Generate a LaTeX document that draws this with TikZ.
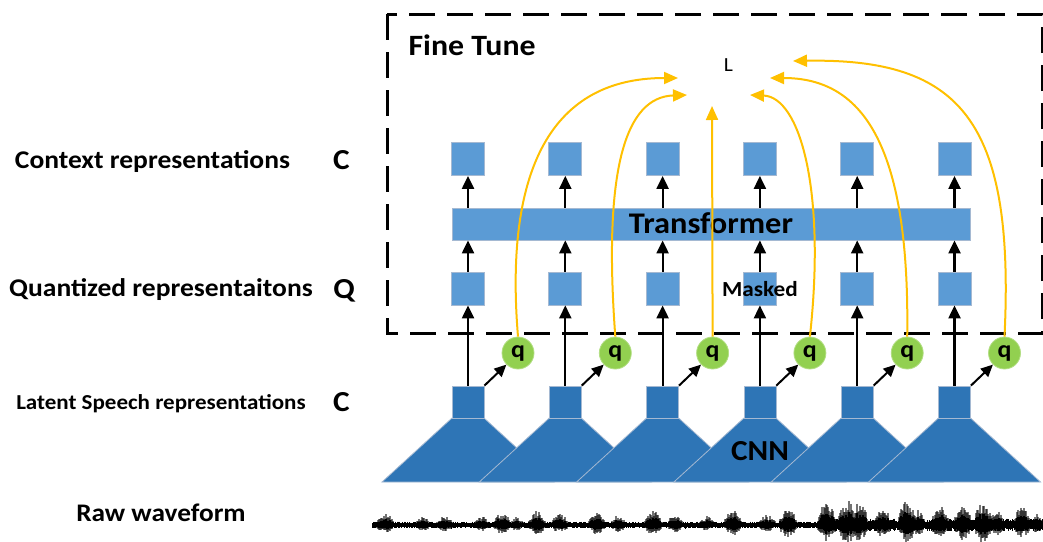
\documentclass[tikz,border=0pt]{standalone}
\usepackage{fontspec}
\setmainfont{Carlito}[FakeStretch=1.08]
\usetikzlibrary{arrows.meta}
\definecolor{lb}{RGB}{91,155,213}
\definecolor{db}{RGB}{46,117,182}
\definecolor{gq}{RGB}{146,208,80}
\definecolor{yl}{RGB}{255,192,0}
\definecolor{edge}{RGB}{165,185,210}
\newcommand\fsz[1]{\fontsize{#1}{#1}\selectfont}
\begin{document}
\begin{tikzpicture}[x=1pt,y=-1pt,
  lbox/.style={draw=edge, line width=0.8pt, fill=lb, minimum width=33pt, minimum height=33pt, inner sep=0pt},
  dbox/.style={draw=edge, line width=0.8pt, fill=db, minimum width=32pt, minimum height=32pt, inner sep=0pt},
  qnode/.style={circle, draw=gq!70!white, line width=0.8pt, fill=gq, minimum size=32pt, inner sep=0pt, font=\fsz{24}\bfseries},
  blk/.style={-{Triangle[width=12pt,length=13pt]}, line width=2.2pt, black},
  ylw/.style={-{Triangle[width=12pt,length=14pt]}, line width=2pt, yl},
  lab/.style={anchor=base, font=\bfseries},
  fbox/.style={draw=black, line width=3pt, dash pattern=on 26pt off 12pt}
]
\useasboundingbox (0,0) rectangle (1043,541);

% dashed fine-tune frame
\draw[fbox] (387,14) rectangle (1042,333);
\node[anchor=base west, font=\fsz{29.5}\bfseries] (ft) at (405,55.7) {Fine Tune};
\node[anchor=base, inner sep=0pt] (L) at (728.5,71.7) {\fontsize{20}{20}\selectfont L};

% left labels
\node[lab, font=\fsz{25.5}\bfseries] (lc) at (152.5,168) {Context representations};
\node[lab, font=\fsz{29}\bfseries] (lcC) at (341.5,169) {C};
\node[lab, font=\fsz{25.5}\bfseries] (lq) at (161,296) {Quantized representaitons};
\node[lab, font=\fsz{29}\bfseries] (lqQ) at (344,298) {Q};
\node[lab, font=\fsz{21.3}\bfseries] (ll) at (161,409) {Latent Speech representations};
\node[lab, font=\fsz{29}\bfseries] (llC) at (341.5,411.5) {C};
\node[lab, font=\fsz{25.3}\bfseries] (lr) at (161,521.7) {Raw waveform};

% CNN trapezoids
\foreach \i in {1,...,6}{
  \pgfmathsetmacro\xc{468+97.3*(\i-1)}
  \filldraw[fill=db, draw=edge, line width=0.8pt] (\xc-16,418) -- (\xc+16,418) -- (\xc+86,482) -- (\xc-86,482) -- cycle;
}
\node[lab, font=\fsz{29}\bfseries] (cnn) at (760,460) {CNN};

% transformer
\node[draw=edge, line width=0.8pt, fill=lb, minimum width=518pt, minimum height=32pt, inner sep=0pt] (tr) at (711,224) {};
\node[lab, font=\fsz{30}\bfseries] (trt) at (711,233) {Transformer};

% columns
\foreach \i in {1,...,6}{
  \pgfmathsetmacro\xc{468+97.3*(\i-1)}
  \node[lbox] (cb\i) at (\xc,159) {};
  \node[lbox] (qb\i) at (\xc,288.5) {};
  \node[dbox] (cn\i) at (\xc,402) {};
  \node[qnode] (q\i) at (\xc+50,353) {q};
  \draw[blk] (cn\i.north) -- (qb\i.south);
  \draw[blk] (qb\i.north) -- (qb\i.north |- tr.south);
  \draw[blk] (qb\i.north |- tr.north) -- (cb\i.south);
  \draw[-{Triangle[width=11pt,length=12pt]}, line width=2pt] (cn\i.north east) -- (q\i.south west);
}
\node[lab, font=\fsz{21.5}\bfseries] (msk) at (760,296) {Masked};

% yellow loss arrows
\coordinate (t1) at (678,78);
\coordinate (t2) at (687,95);
\coordinate (t3) at (712,106);
\coordinate (t4) at (750,95);
\coordinate (t5) at (770,78);
\coordinate (t6) at (793,61);
\draw[ylw] (q1.north) .. controls (505,180) and (545,78) .. (t1);
\draw[ylw] (q2.north) .. controls (603,170) and (625,97) .. (t2);
\draw[ylw] (q3.north) -- (t3);
\draw[ylw] (q4.north) .. controls (826,190) and (800,97) .. (t4);
\draw[ylw] (q5.north) .. controls (910,140) and (860,78) .. (t5);
\draw[ylw] (q6.north) .. controls (1015,120) and (960,58) .. (t6);

% raw waveform
\pgfmathsetseed{7}
\foreach \c/\a/\w in {385/12/10,423/8/9,445/10/10,482/9/9,502/13/10,517/8/8,537/14/10,560/11/10,597/13/10,618/10/9,653/17/10,675/11/9,707/9/9,733/17/10,767/10/10,788/19/10,827/23/11,847/27/10,860/24/9,883/17/10,907/25/10,918/15/8,940/20/10,963/22/10,983/26/10,997/15/8,1022/18/10,1037/12/6}{
  \pgfmathtruncatemacro\lo{-\w}
  \foreach \d in {\lo,...,\w}{
    \pgfmathsetmacro\tt{\d/\w}
    \pgfmathsetmacro\hu{\a*(1-\tt*\tt)*(0.45+0.55*rnd)}
    \pgfmathsetmacro\hd{0.7*\a*(1-\tt*\tt)*(0.45+0.55*rnd)}
    \draw[line width=1.2pt, black, opacity=0.55] (\c+\d,525-\hu) -- (\c+\d,525+\hd);
    \draw[line width=1.2pt, black] (\c+\d,525-0.55*\hu) -- (\c+\d,525+0.55*\hd);
  }
}
\foreach \x in {372,...,1042}{
  \pgfmathsetmacro\bu{(\x<822?3.5:6.5)*(0.5+0.5*rnd)}
  \pgfmathsetmacro\bd{(\x<822?3.5:6.5)*(0.5+0.5*rnd)}
  \draw[line width=1pt, black] (\x,525-\bu) -- (\x,525+\bd);
}
\end{tikzpicture}
\end{document}
